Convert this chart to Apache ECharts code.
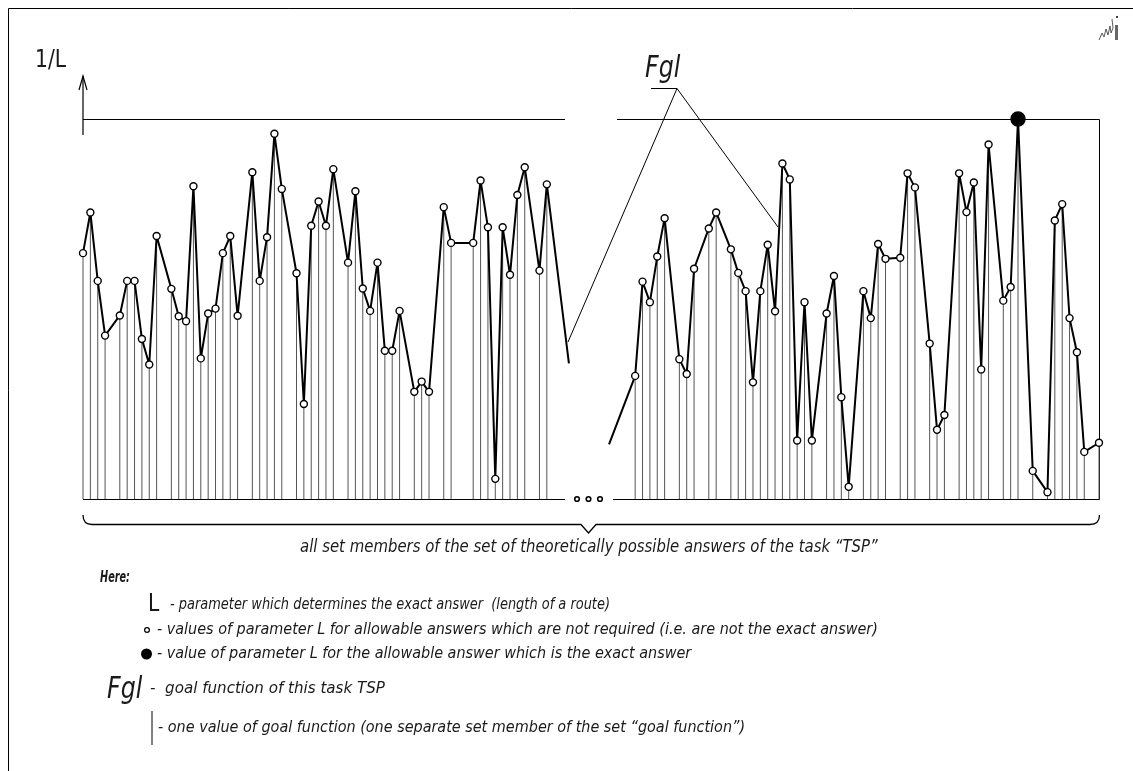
<!DOCTYPE html>
<html>
<head>
<meta charset="utf-8">
<script src="https://cdn.jsdelivr.net/npm/echarts@6/dist/echarts.min.js"></script>
<style>
  html, body { margin: 0; padding: 0; background: #ffffff; }
  #chart { width: 1133px; height: 771px; }
</style>
</head>
<body>
<div id="chart"></div>
<script>
// set members (index along the x axis) and their 1/L values (top line = 100)
const leftIdx = [0, 1, 2, 3, 5, 6, 7, 8, 9, 10, 12, 13, 14, 15, 16, 17, 18, 19, 20, 21,
  23, 24, 25, 26, 27, 29, 30, 31, 32, 33, 34, 36, 37, 38, 39, 40, 41, 42, 43,
  45, 46, 47, 49, 50, 53, 54, 55, 56, 57, 58, 59, 60, 62, 63];
const leftVal = [64.7, 75.4, 57.4, 43.0, 48.3, 57.4, 57.4, 42.1, 35.4, 69.2, 55.3, 48.1, 46.8, 82.3,
  37.0, 48.8, 50.1, 64.7, 69.2, 48.2, 86.0, 57.4, 68.9, 96.1, 81.6, 59.4, 25.0, 71.9, 78.3,
  71.9, 86.8, 62.2, 81.0, 55.4, 49.5, 62.2, 39.0, 39.0, 49.5, 28.2, 30.9, 28.2, 76.8, 67.4,
  67.4, 83.8, 71.5, 5.3, 71.5, 59.0, 80.0, 87.3, 60.1, 82.8];
const leftTail = [66, 35.7];

const rightLead = [71.45, 14.4];
const rightIdx = [75, 76, 77, 78, 79, 81, 82, 83, 85, 86, 88, 89, 90, 91, 92, 93, 94, 95, 96, 97,
  98, 99, 101, 102, 103, 104, 106, 107, 108, 109, 111, 112, 113, 115, 116, 117, 119, 120,
  121, 122, 123, 125, 126, 127, 129, 131, 132, 133, 134, 135, 136, 138];
const rightVal = [32.4, 57.2, 51.8, 63.8, 73.9, 36.8, 32.9, 60.6, 71.2, 75.4, 65.7, 59.5, 54.7,
  30.7, 54.7, 66.9, 49.4, 88.3, 84.1, 15.4, 51.8, 15.4, 48.8, 58.7, 26.8, 3.2, 54.7, 47.6,
  67.1, 63.2, 63.5, 85.7, 82.0, 40.9, 18.2, 22.1, 85.7, 75.5, 83.3, 34.1, 93.3, 52.2, 55.8,
  100, 7.4, 1.8, 73.3, 77.6, 47.6, 38.6, 12.4, 14.8];
const exactIdx = 127;

const FONT = '"Liberation Sans Narrow", "DejaVu Sans Condensed", sans-serif';

const leftPts = leftIdx.map((x, k) => [x, leftVal[k]]);
const rightPts = rightIdx.map((x, k) => [x, rightVal[k]]);
const stemPts = leftPts.concat(rightPts);

const pointStyle = { color: '#ffffff', borderColor: '#000000', borderWidth: 1.4 };

function lineData(points, lead, tail) {
  const out = [];
  if (lead) out.push({ value: lead, symbol: 'none' });
  points.forEach(p => {
    if (p[0] === exactIdx) {
      out.push({ value: p, symbolSize: 14, itemStyle: { color: '#000000', borderColor: '#000000' } });
    } else {
      out.push({ value: p });
    }
  });
  if (tail) out.push({ value: tail, symbol: 'none' });
  return out;
}

// italic drawing text; sx squeezes/stretches it horizontally
function txt(x, y, text, size, sx, extra) {
  return {
    type: 'text',
    x: x,
    y: y,
    scaleX: sx || 1,
    style: Object.assign({
      text: text,
      fill: '#1a1a1a',
      font: 'italic ' + size + 'px ' + FONT,
      textVerticalAlign: 'middle'
    }, extra || {})
  };
}

function seg(points, width) {
  return { type: 'polyline', shape: { points: points }, style: { fill: 'none', stroke: '#000', lineWidth: width || 1 } };
}

const chart = echarts.init(document.getElementById('chart'), null, { renderer: 'canvas' });

chart.setOption({
  animation: false,
  backgroundColor: '#ffffff',
  grid: { left: 83, right: 34, top: 119, bottom: 272 },
  xAxis: { type: 'value', min: 0, max: 138, show: false },
  yAxis: { type: 'value', min: 0, max: 100, show: false },
  series: [
    {
      type: 'custom',
      data: stemPts,
      silent: true,
      renderItem(params, api) {
        const top = api.coord([api.value(0), api.value(1)]);
        const bot = api.coord([api.value(0), 0]);
        return {
          type: 'line',
          shape: { x1: top[0], y1: top[1], x2: bot[0], y2: bot[1] },
          style: { stroke: '#555555', lineWidth: 1 }
        };
      },
      z: 1
    },
    {
      type: 'line',
      data: lineData(leftPts, null, leftTail),
      symbol: 'circle',
      symbolSize: 7,
      showAllSymbol: true,
      lineStyle: { color: '#000000', width: 2 },
      itemStyle: pointStyle,
      z: 3
    },
    {
      type: 'line',
      data: lineData(rightPts, rightLead, null),
      symbol: 'circle',
      symbolSize: 7,
      showAllSymbol: true,
      lineStyle: { color: '#000000', width: 2 },
      itemStyle: pointStyle,
      z: 3
    }
  ],
  graphic: [
    // drawing frame
    { type: 'rect', shape: { x: 8.5, y: 8.5, width: 1140, height: 800 }, style: { fill: 'none', stroke: '#000', lineWidth: 1 } },
    // axis arrow
    seg([[83, 135], [83, 76]], 1.2),
    seg([[79, 90], [83, 76], [87, 90]], 1.2),
    // chart frame pieces
    seg([[83, 119.5], [565, 119.5]]),
    seg([[617, 119.5], [1099.5, 119.5], [1099.5, 499.5], [613, 499.5]]),
    seg([[83, 499.5], [565, 499.5]]),
    // dots in the gap
    { type: 'circle', shape: { cx: 577, cy: 499, r: 2.3 }, style: { fill: '#fff', stroke: '#000', lineWidth: 1.6 } },
    { type: 'circle', shape: { cx: 588.5, cy: 499, r: 2.3 }, style: { fill: '#fff', stroke: '#000', lineWidth: 1.6 } },
    { type: 'circle', shape: { cx: 600, cy: 499, r: 2.3 }, style: { fill: '#fff', stroke: '#000', lineWidth: 1.6 } },
    // brace
    { type: 'bezierCurve', shape: { x1: 83, y1: 515, cpx1: 83, cpy1: 524.5, x2: 92, y2: 524.5 }, style: { fill: 'none', stroke: '#000', lineWidth: 1.3 } },
    seg([[92, 524.5], [581, 524.5], [588.5, 533], [596, 524.5], [1090, 524.5]], 1.3),
    { type: 'bezierCurve', shape: { x1: 1090, y1: 524.5, cpx1: 1099.5, cpy1: 524.5, x2: 1099.5, y2: 515 }, style: { fill: 'none', stroke: '#000', lineWidth: 1.3 } },
    // Fgl leader
    seg([[651, 88.5], [677, 88.5]]),
    seg([[568, 342], [677, 88.5], [778, 227]]),
    // labels
    txt(35, 60, '1/L', 25, 0.9, { font: '25px ' + FONT }),
    txt(645, 69, 'Fgl', 31, 0.85),
    txt(300, 548, 'all set members of the set of theoretically possible answers of the task \u201cTSP\u201d', 17, 0.975),
    txt(100, 578, 'Here:', 15, 0.72, { font: 'italic bold 15px ' + FONT }),
    txt(148, 604, 'L', 25, 0.9, { font: '25px ' + FONT }),
    txt(170, 605, '- parameter which determines the exact answer  (length of a route)', 16, 0.9),
    { type: 'circle', shape: { cx: 147, cy: 630, r: 2.4 }, style: { fill: '#fff', stroke: '#000', lineWidth: 1.2 } },
    txt(157, 630, '- values of parameter L for allowable answers which are not required (i.e. are not the exact answer)', 16, 1),
    { type: 'circle', shape: { cx: 146.5, cy: 654, r: 5.5 }, style: { fill: '#000' } },
    txt(157, 654, '- value of parameter L for the allowable answer which is the exact answer', 16, 1),
    txt(107, 690, 'Fgl', 31, 0.85),
    txt(150, 689, '-  goal function of this task TSP', 16, 1.05),
    seg([[152, 711], [152, 745]]),
    txt(158, 728, '- one value of goal function (one separate set member of the set \u201cgoal function\u201d)', 16, 1),
    // signature mark
    {
      type: 'polyline',
      shape: { points: [[1099, 40], [1102, 33], [1104, 37], [1106, 29], [1108, 35], [1110, 26], [1111, 33], [1113, 28], [1112, 19]] },
      style: { fill: 'none', stroke: '#333', lineWidth: 0.8 }
    },
    { type: 'rect', shape: { x: 1115, y: 25, width: 3, height: 15 }, style: { fill: '#666' } },
    { type: 'circle', shape: { cx: 1117, cy: 17, r: 1 }, style: { fill: '#000' } }
  ]
});
</script>
</body>
</html>
